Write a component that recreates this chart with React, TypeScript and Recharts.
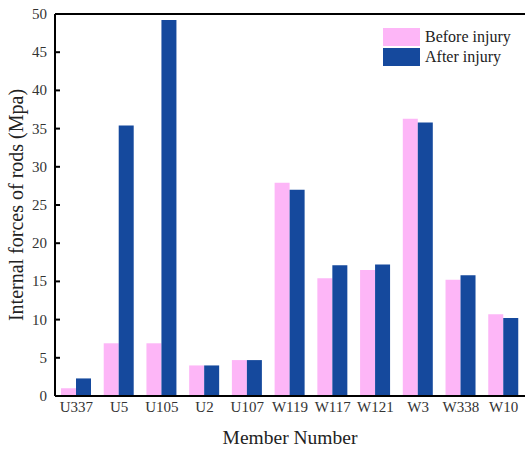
import { BarChart, Bar, XAxis, YAxis, Legend, ReferenceLine } from "recharts";

const members = ["U337", "U5", "U105", "U2", "U107", "W119", "W117", "W121", "W3", "W338", "W10"];
const beforeInjury = [1.0, 6.9, 6.9, 4.0, 4.7, 27.9, 15.4, 16.5, 36.3, 15.2, 10.7];
const afterInjury = [2.3, 35.4, 49.2, 4.0, 4.7, 27.0, 17.1, 17.2, 35.8, 15.8, 10.2];
const yTicks = [0, 5, 10, 15, 20, 25, 30, 35, 40, 45, 50];

const PINK = "#fdb6f7";
const BLUE = "#15499d";
const FONT = "'Liberation Serif', 'Times New Roman', serif";

const data = members.map((m, i) => ({
  name: m,
  before: beforeInjury[i],
  after: afterInjury[i],
}));

// y ticks point inward, so draw the tick mark together with the label
function YTick(props: any) {
  const { x, y, payload } = props;
  return (
    <g>
      <line x1={x + 8} x2={x + 13} y1={y} y2={y} stroke="#000" strokeWidth={2} />
      <text x={x} y={y} dy={5} textAnchor="end" fontSize={15} fontFamily={FONT} fill="#333">
        {payload.value}
      </text>
    </g>
  );
}

function XTick(props: any) {
  const { x, y, payload } = props;
  return (
    <text x={x} y={y} dy={13} textAnchor="middle" fontSize={15} fontFamily={FONT} fill="#333">
      {payload.value}
    </text>
  );
}

function LegendBox() {
  const items = [
    { label: "Before injury", color: PINK },
    { label: "After injury", color: BLUE },
  ];
  return (
    <div style={{ fontFamily: FONT, fontSize: 16, color: "#222" }}>
      {items.map((it) => (
        <div key={it.label} style={{ display: "flex", alignItems: "center", height: 20 }}>
          <span style={{ width: 37, height: 18, background: it.color, marginRight: 5 }} />
          <span>{it.label}</span>
        </div>
      ))}
    </div>
  );
}

export default function App() {
  return (
    <div style={{ position: "absolute", left: 0, top: 0, background: "#fff", fontFamily: FONT }}>
      <BarChart
        width={527}
        height={450}
        data={data}
        margin={{ top: 14, right: 2, left: 0, bottom: 0 }}
        barCategoryGap="14%"
        barGap={0}
      >
        <XAxis
          dataKey="name"
          interval={0}
          height={54}
          tickSize={0}
          tickMargin={3}
          axisLine={{ stroke: "#000", strokeWidth: 2 }}
          tick={<XTick />}
          label={{
            value: "Member Number",
            position: "insideBottom",
            offset: 6,
            fontSize: 19.5,
            fontFamily: FONT,
            fill: "#222",
          }}
        />
        <YAxis
          width={55}
          domain={[0, 50]}
          ticks={yTicks}
          interval={0}
          tickSize={0}
          tickMargin={8}
          tickLine={false}
          axisLine={{ stroke: "#000", strokeWidth: 2 }}
          tick={<YTick />}
          label={{
            value: "Internal forces of rods (Mpa)",
            angle: -90,
            position: "insideLeft",
            offset: 16,
            style: { textAnchor: "middle" },
            fontSize: 20,
            fontFamily: FONT,
            fill: "#222",
          }}
        />
        <YAxis
          yAxisId="right"
          orientation="right"
          width={0}
          tick={false}
          tickLine={false}
          axisLine={{ stroke: "#999", strokeWidth: 1 }}
        />
        <ReferenceLine y={50} stroke="#000" strokeWidth={2} />
        <Legend
          layout="horizontal"
          verticalAlign="middle"
          content={<LegendBox />}
          wrapperStyle={{ top: 27, left: 383, width: 140 }}
        />
        <Bar dataKey="before" name="Before injury" fill={PINK} isAnimationActive={false} />
        <Bar dataKey="after" name="After injury" fill={BLUE} isAnimationActive={false} />
      </BarChart>
    </div>
  );
}
